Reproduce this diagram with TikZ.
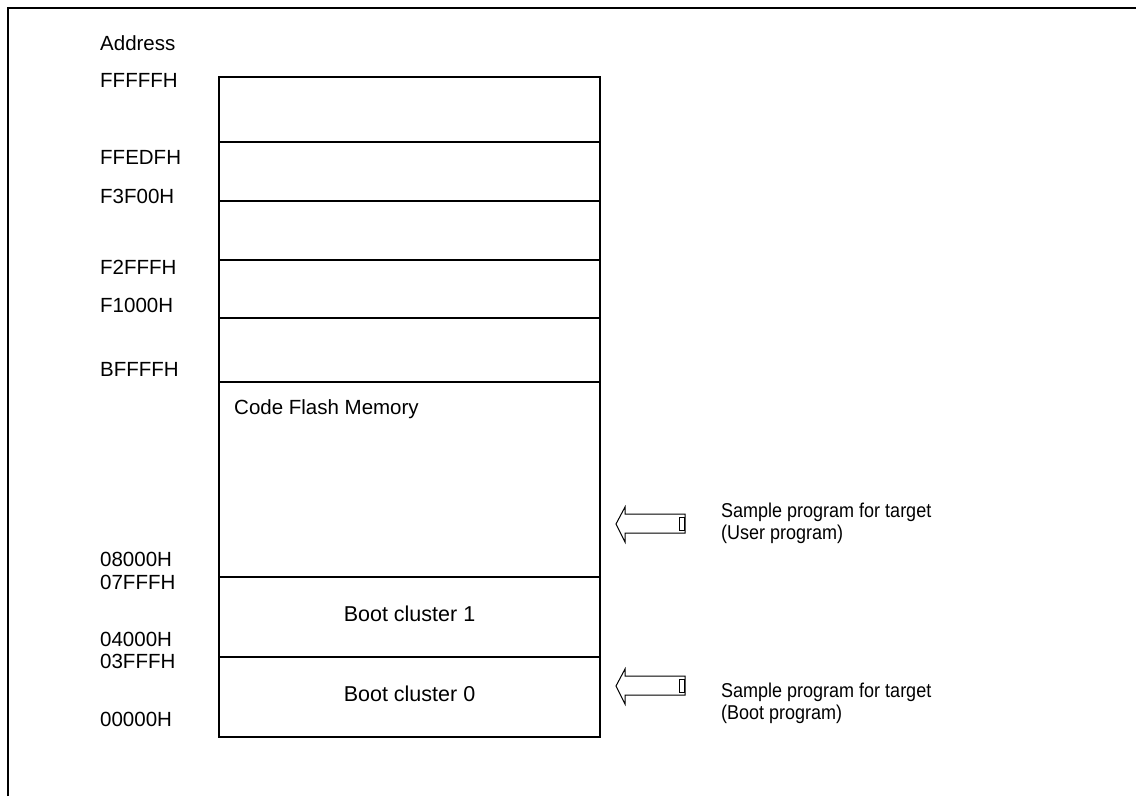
\documentclass[tikz,border=0pt]{standalone}
\usepackage{fontspec}
\setmainfont{Liberation Sans}
\newfontfamily\notefont[FakeStretch=0.9]{Liberation Sans}
\tikzset{
  addr/.style={anchor=base west, inner sep=0pt, font=\fontsize{20.5}{24}\selectfont},
  inbox/.style={anchor=base, inner sep=0pt, font=\fontsize{21.5}{25}\selectfont},
  note/.style={anchor=base west, inner sep=0pt, font=\notefont\fontsize{20}{24}\selectfont},
  thinbox/.style={draw, line width=1.6pt},
  thickbox/.style={draw, line width=2.4pt},
  hollow/.style={draw, line width=1pt, fill=white, line join=miter}
}
\begin{document}
\begin{tikzpicture}[x=1pt, y=-1pt]
    \useasboundingbox (0,0) rectangle (1136,796);
    \draw [line width=1.2pt] (8,796) -- (8,8) -- (1136,8);
    % upper areas
    \draw [thinbox] (219,77) rectangle (600,382);
    \draw [thinbox] (219,142) -- (600,142);
    \draw [thinbox] (219,201) -- (600,201);
    \draw [thinbox] (219,260) -- (600,260);
    \draw [thinbox] (219,318) -- (600,318);
    % flash and boot clusters
    \draw [thickbox] (219,382) rectangle (600,737);
    \draw [thickbox] (219,577) -- (600,577);
    \draw [thickbox] (219,657) -- (600,657);
    \node [addr] (address) at (100,50) {Address};
    \node [addr] (a1) at (100,87) {FFFFFH};
    \node [addr] (a2) at (100,164) {FFEDFH};
    \node [addr] (a3) at (100,203) {F3F00H};
    \node [addr] (a4) at (100,274) {F2FFFH};
    \node [addr] (a5) at (100,312) {F1000H};
    \node [addr] (a6) at (100,376) {BFFFFH};
    \node [addr] (a7) at (100,566) {08000H};
    \node [addr] (a8) at (100,589) {07FFFH};
    \node [addr] (a9) at (100,646) {04000H};
    \node [addr] (a10) at (100,668) {03FFFH};
    \node [addr] (a11) at (100,726) {00000H};
    \node [addr] (flash) at (234,414) {Code Flash Memory};
    \node [inbox] (boot1) at (409.5,621) {Boot cluster 1};
    \node [inbox] (boot0) at (409.5,701) {Boot cluster 0};
    % arrows
    \draw [hollow] (685,514) -- (625,514) -- (625,507) -- (616,524) -- (625,542) -- (625,533) -- (685,533) -- cycle;
    \draw [hollow] (679,517) rectangle (684,530);
    \draw [hollow] (685,676) -- (625,676) -- (625,669) -- (616,686) -- (625,704) -- (625,695) -- (685,695) -- cycle;
    \draw [hollow] (679,679) rectangle (684,692);
    \node [note] (user1) at (721,517) {Sample program for target};
    \node [note] (user2) at (721,539) {(User program)};
    \node [note] (boot1note) at (721,697) {Sample program for target};
    \node [note] (boot2note) at (721,719) {(Boot program)};
\end{tikzpicture}
\end{document}
